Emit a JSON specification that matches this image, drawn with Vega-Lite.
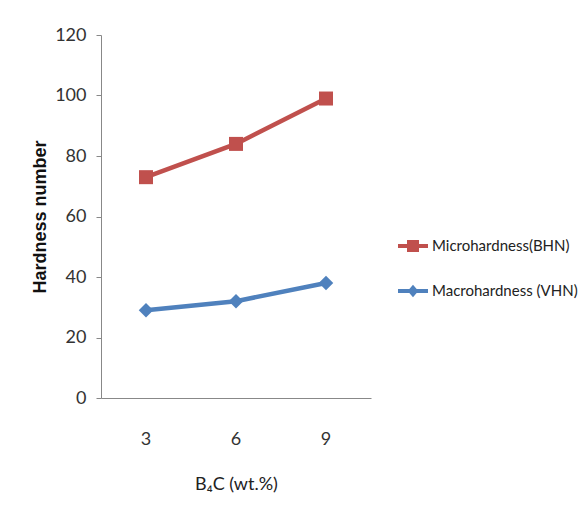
{
  "$schema": "https://vega.github.io/schema/vega-lite/v6.json",
  "width": 270,
  "height": 363,
  "autosize": "none",
  "padding": {"left": 101, "top": 35, "right": 217, "bottom": 123},
  "background": "white",
  "config": {
    "view": {"stroke": null},
    "font": "Lato, sans-serif"
  },
  "data": {
    "values": [
      {"b4c": "3", "series": "Microhardness(BHN)", "value": 73},
      {"b4c": "6", "series": "Microhardness(BHN)", "value": 84},
      {"b4c": "9", "series": "Microhardness(BHN)", "value": 99},
      {"b4c": "3", "series": "Macrohardness (VHN)", "value": 29},
      {"b4c": "6", "series": "Macrohardness (VHN)", "value": 32},
      {"b4c": "9", "series": "Macrohardness (VHN)", "value": 38}
    ]
  },
  "encoding": {
    "x": {
      "field": "b4c",
      "type": "ordinal",
      "sort": ["3", "6", "9"],
      "scale": {"type": "band", "paddingInner": 0, "paddingOuter": 0},
      "axis": {
        "title": "B₄C  (wt.%)",
        "titleFont": "Lato, sans-serif",
        "titleFontSize": 18,
        "titleFontWeight": "normal",
        "titleColor": "#222222",
        "titlePadding": 27,
        "labelAngle": 0,
        "labelFontSize": 18,
        "labelColor": "#333333",
        "labelPadding": 32,
        "ticks": false,
        "domainColor": "#888888",
        "domainWidth": 1,
        "grid": false
      }
    },
    "y": {
      "field": "value",
      "type": "quantitative",
      "scale": {"domain": [0, 120], "nice": false, "zero": true},
      "axis": {
        "title": "Hardness number",
        "titleFont": "Liberation Sans, Arial, sans-serif",
        "titleFontSize": 18,
        "titleFontWeight": "bold",
        "titleColor": "#111111",
        "titlePadding": 5,
        "values": [0, 20, 40, 60, 80, 100, 120],
        "labelFontSize": 18,
        "labelColor": "#333333",
        "labelPadding": 10,
        "tickSize": 5,
        "tickColor": "#888888",
        "domainColor": "#888888",
        "grid": false
      }
    },
    "color": {
      "field": "series",
      "type": "nominal",
      "sort": ["Microhardness(BHN)", "Macrohardness (VHN)"],
      "scale": {"domain": ["Microhardness(BHN)", "Macrohardness (VHN)"], "range": ["#C0504D", "#4F81BD"]},
      "legend": {
        "title": null,
        "orient": "none",
        "legendX": 297,
        "legendY": 196,
        "padding": 0,
        "rowPadding": 22,
        "labelFont": "Lato, sans-serif",
        "labelFontSize": 15,
        "labelColor": "#222222",
        "labelOffset": 4,
        "labelLimit": 0,
        "symbolSize": 900,
        "encode": {
          "symbols": {
            "update": {
              "shape": {"signal": "datum.value === 'Microhardness(BHN)' ? 'M-1,-0.13H1V0.13H-1Z M-0.4,-0.4H0.4V0.4H-0.4Z' : 'M-1,-0.13H1V0.13H-1Z M0,-0.42L0.36,0L0,0.42L-0.36,0Z'"},
              "fill": {"scale": "color", "field": "value"},
              "fillOpacity": {"value": 1},
              "strokeWidth": {"value": 0}
            }
          }
        }
      }
    }
  },
  "layer": [
    {
      "mark": {"type": "line", "strokeWidth": 4.5}
    },
    {
      "transform": [{"filter": "datum.series === 'Microhardness(BHN)'"}],
      "mark": {"type": "point", "shape": "square", "filled": true, "opacity": 1, "size": 196}
    },
    {
      "transform": [{"filter": "datum.series === 'Macrohardness (VHN)'"}],
      "mark": {"type": "point", "shape": "diamond", "filled": true, "opacity": 1, "size": 210}
    }
  ]
}
